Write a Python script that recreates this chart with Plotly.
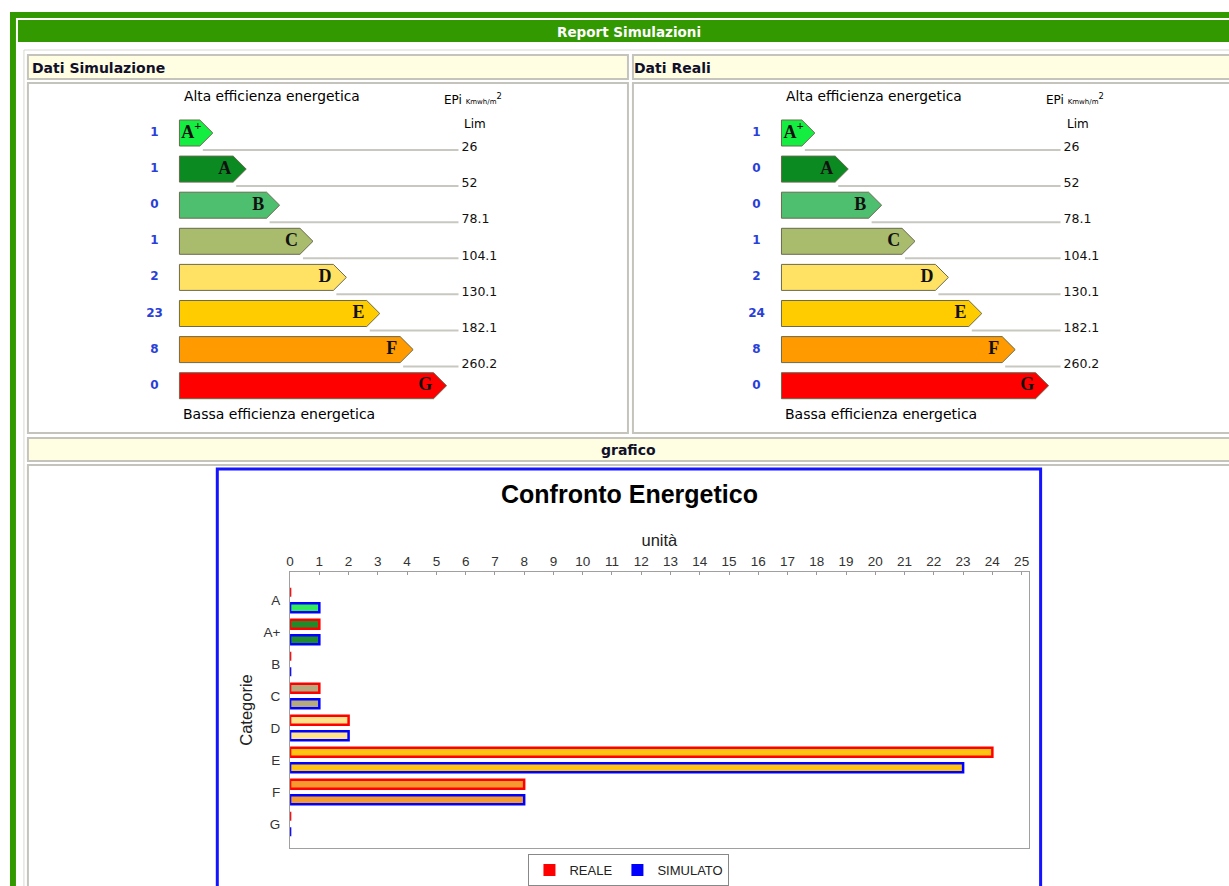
import plotly.graph_objects as go

W, H = 1229, 886

# ---------------- data ----------------
categories = ["A", "A+", "B", "C", "D", "E", "F", "G"]
reale = [0, 1, 0, 1, 2, 24, 8, 0]
simulato = [1, 1, 0, 1, 2, 23, 8, 0]
bar_fill = ["#33EA5A", "#1F8C2C", "#4DBF6F", "#B5A97E", "#FFE38A", "#FFC412", "#F59A2E", "#FF2020"]
x_ticks = list(range(0, 26))

classes = ["A<sup>+</sup>", "A", "B", "C", "D", "E", "F", "G"]
class_colors = ["#14EE40", "#0C8A22", "#4DBF6F", "#A9BB6C", "#FFE264", "#FFCC00", "#FF9A00", "#FF0000"]
count_sim = [1, 1, 0, 1, 2, 23, 8, 0]
count_real = [1, 0, 0, 1, 2, 24, 8, 0]
limits = ["26", "52", "78.1", "104.1", "130.1", "182.1", "260.2"]

# ---------------- helpers ----------------
def px(x):
    return x / W

def py(y):
    return 1 - y / H

shapes = []
annotations = []

def rect(x0, y0, x1, y1, fill, line=None, lw=0):
    shapes.append(dict(type="rect", xref="paper", yref="paper",
                       x0=px(x0), x1=px(x1), y0=py(y1), y1=py(y0),
                       fillcolor=fill, line=dict(color=line or fill, width=lw),
                       layer="below"))

def text(x, y, s, size, color="#000", family="'DejaVu Sans', Verdana, sans-serif",
         xanchor="left", textangle=0):
    annotations.append(dict(xref="paper", yref="paper", x=px(x), y=py(y), text=s,
                            showarrow=False, xanchor=xanchor, yanchor="middle",
                            textangle=textangle, borderpad=0,
                            font=dict(size=size, color=color, family=family)))

HDR_FONT = "Tahoma, 'DejaVu Sans', sans-serif"

# ---------------- page decoration ----------------
rect(6, 12, W, H + 5, "#339900")               # outer green frame
rect(12, 18, W, H + 5, "#FFFFFF")              # inner white page
rect(14, 20, W, 42, "#339900")                 # title bar
text(627, 32, "<b>Report Simulazioni</b>", 13.5, "#FFFFFF", HDR_FONT, "center")
rect(20, 50, W + 5, H + 5, "#FFFFFF", "#D8D8D0", 1)

# cell headers
CELL_Y = "#FFFDE2"
CELL_B = "#C4C4BC"
rect(24, 55, 626, 79, CELL_Y, CELL_B, 2)
rect(631, 55, W + 5, 79, CELL_Y, CELL_B, 2)
text(27, 68, "<b>Dati Simulazione</b>", 14, "#10102A", HDR_FONT)
text(631, 68, "<b>Dati Reali</b>", 14, "#10102A", HDR_FONT)
# content cells
rect(24, 83, 626, 433, "#FFFFFF", CELL_B, 2)
rect(631, 83, W + 5, 433, "#FFFFFF", CELL_B, 2)
rect(24, 438, W + 5, 461, CELL_Y, CELL_B, 2)
text(627, 450, "<b>grafico</b>", 14, "#10102A", HDR_FONT, "center")
rect(24, 465, W + 5, H + 5, "#FFFFFF", CELL_B, 2)
# chart frame
rect(214, 469, 1040, H + 10, "#FFFFFF", "#1414FF", 3)

# ---------------- bar chart ----------------
fig = go.Figure()
fig.add_trace(go.Bar(y=categories, x=reale, orientation="h", name="REALE",
                     marker=dict(color=bar_fill, line=dict(color="#FF0000", width=2.5)),
                     showlegend=False, hoverinfo="x+y"))
fig.add_trace(go.Bar(y=categories, x=simulato, orientation="h", name="SIMULATO",
                     marker=dict(color=bar_fill, line=dict(color="#0000FF", width=2.5)),
                     showlegend=False, hoverinfo="x+y"))
# legend entries
fig.add_trace(go.Scatter(x=[None], y=[None], mode="markers", name="REALE",
                         marker=dict(symbol="square", size=12, color="#FF0000")))
fig.add_trace(go.Scatter(x=[None], y=[None], mode="markers", name="SIMULATO",
                         marker=dict(symbol="square", size=12, color="#0000FF")))

text(628, 494, "<b>Confronto Energetico</b>", 25, "#000000",
     "'Liberation Sans', Arial, sans-serif", "center")

# ---------------- energy label panels ----------------
UNIT_X = 33.5
UNIT_Y = 36.1
Y0 = 133
panel_range_x = [(140 - 176) / UNIT_X, (520 - 176) / UNIT_X]
panel_range_y = [(425 - Y0) / UNIT_Y, (88 - Y0) / UNIT_Y]
LINE_END = (456 - 176) / UNIT_X
LIM_X = (459 - 176) / UNIT_X
COUNT_X = (151 - 176) / UNIT_X
TIP = 0.39
HALF = 0.36

panels = [
    (0, count_sim, "x2", "y2"),
    (604, count_real, "x3", "y3"),
]

for off, counts, xa, ya in panels:
    for i in range(len(classes)):
        L = i + 1
        xs = [0, L - TIP, L, L - TIP, 0, 0]
        ys = [i - HALF, i - HALF, i, i + HALF, i + HALF, i - HALF]
        fig.add_trace(go.Scatter(x=xs, y=ys, mode="lines", fill="toself",
                                 fillcolor=class_colors[i],
                                 line=dict(color="#6A6A50", width=1),
                                 xaxis=xa, yaxis=ya, showlegend=False, hoverinfo="skip"))
    # limit lines
    lx, ly = [], []
    for i in range(len(limits)):
        L = i + 1
        lx += [L - 0.3, LINE_END, None]
        ly += [i + 0.47, i + 0.47, None]
    fig.add_trace(go.Scatter(x=lx, y=ly, mode="lines", line=dict(color="#C8C8C0", width=2),
                             xaxis=xa, yaxis=ya, showlegend=False, hoverinfo="skip"))
    fig.add_trace(go.Scatter(x=[LIM_X] * len(limits), y=[i + 0.42 for i in range(len(limits))],
                             mode="text", text=limits, textposition="middle right",
                             textfont=dict(size=12.5, color="#111111",
                                           family="'DejaVu Sans', Verdana, sans-serif"),
                             xaxis=xa, yaxis=ya, showlegend=False, hoverinfo="skip"))
    # class letters
    fig.add_trace(go.Scatter(x=[i + 1 - 0.64 for i in range(len(classes))],
                             y=list(range(len(classes))),
                             mode="text", text=["<b>%s</b>" % c for c in classes],
                             textposition="middle center",
                             textfont=dict(size=18, color="#111111",
                                           family="'Liberation Serif', 'Times New Roman', serif"),
                             xaxis=xa, yaxis=ya, showlegend=False, hoverinfo="skip"))
    # counts
    fig.add_trace(go.Scatter(x=[COUNT_X] * len(counts), y=list(range(len(counts))),
                             mode="text", text=["<b>%d</b>" % c for c in counts],
                             textposition="middle center",
                             textfont=dict(size=12, color="#2A3FD8",
                                           family="'DejaVu Sans', Verdana, sans-serif"),
                             xaxis=xa, yaxis=ya, showlegend=False, hoverinfo="skip"))
    text(180 + off, 96, "Alta efficienza energetica", 13.8)
    text(440 + off, 99, "EPi <span style='font-size:7px'>Kmwh/m</span><sup>2</sup>", 12)
    text(461 + off, 124, "Lim", 12)
    text(179 + off, 414, "Bassa efficienza energetica", 14)

hidden = dict(visible=False, fixedrange=True)
fig.update_layout(
    width=W, height=H,
    margin=dict(l=0, r=0, t=0, b=0),
    paper_bgcolor="#FFFFFF",
    plot_bgcolor="rgba(0,0,0,0)",
    barmode="group", bargap=0.02, bargroupgap=0.43,
    shapes=shapes, annotations=annotations,
    font=dict(family="Liberation Sans, Arial, sans-serif", color="#222222"),
    xaxis=dict(domain=[px(287), px(1028)], range=[0, 25.24], side="top",
               tickmode="array", tickvals=x_ticks, ticks="inside", ticklen=3,
               tickcolor="#999999", showline=True, linecolor="#A0A0A0", linewidth=1,
               mirror=True, showgrid=False, zeroline=False,
               tickfont=dict(size=13.5, color="#333333"),
               title=dict(text="unità", font=dict(size=16.5, color="#222222"), standoff=2),
               anchor="y", fixedrange=True),
    yaxis=dict(domain=[py(848), py(572)], type="category",
               range=[7.75, -0.875], showline=True, linecolor="#A0A0A0", linewidth=1,
               mirror=True, showgrid=False, zeroline=False, ticks="",
               ticklabelstandoff=6,
               tickfont=dict(size=13.5, color="#333333"),
               title=dict(text="Categorie", font=dict(size=16.5, color="#222222"), standoff=6),
               anchor="x", fixedrange=True),
    xaxis2=dict(domain=[px(140), px(520)], range=panel_range_x, anchor="y2", **hidden),
    yaxis2=dict(domain=[py(425), py(88)], range=panel_range_y, anchor="x2", **hidden),
    xaxis3=dict(domain=[px(744), px(1124)], range=panel_range_x, anchor="y3", **hidden),
    yaxis3=dict(domain=[py(425), py(88)], range=panel_range_y, anchor="x3", **hidden),
    legend=dict(orientation="h", x=px(627), xanchor="center", y=py(870), yanchor="middle",
                bgcolor="#FFFFFF", bordercolor="#888888", borderwidth=1,
                font=dict(size=13, color="#222222"), itemclick=False, itemdoubleclick=False,
                itemwidth=30, tracegroupgap=0),
)

fig.write_html("out.html", config={"displayModeBar": False},
               post_script="document.body.style.margin='0';document.body.style.overflow='hidden';")
